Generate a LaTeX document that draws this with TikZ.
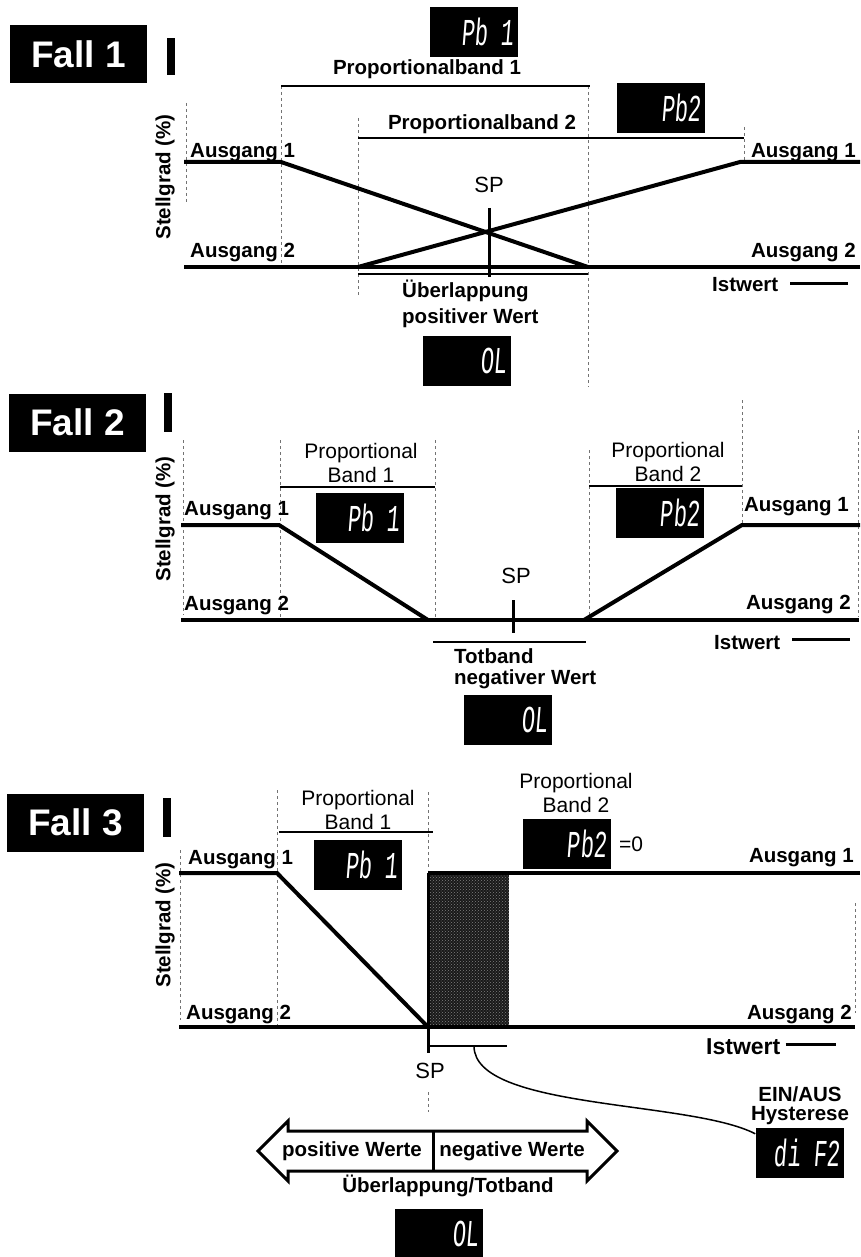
\documentclass[tikz,border=0pt]{standalone}
\usepackage{fontspec}
\setmainfont{Liberation Sans}
\newfontfamily\segfont{Liberation Mono}[FakeStretch=0.58,FakeSlant=0.08]
\usetikzlibrary{calc,patterns}
\tikzset{
  kurve/.style={line width=4pt},
  guide/.style={black!55, line width=0.6pt, dash pattern=on 3pt off 3pt},
  bandline/.style={line width=1.2pt},
  lbl/.style={inner sep=0pt, font=\bfseries\fontsize{20.5}{#1}\selectfont},
  lbl/.default=21,
  txt/.style={inner sep=0pt, align=center, font=\fontsize{21}{24}\selectfont},
  sptxt/.style={inner sep=0pt, font=\fontsize{22}{22}\selectfont},
  display/.style={fill=black, text=white, inner xsep=4pt, inner ysep=0pt, text width=80pt,
    minimum height=50pt, align=right, font=\segfont\fontsize{38}{38}\selectfont},
  fallbox/.style={fill=black, text=white, inner sep=0pt, minimum width=137pt, minimum height=58pt,
    font=\bfseries\fontsize{37}{37}\selectfont},
}
\begin{document}
\begin{tikzpicture}[x=1pt, y=-1pt]
  \useasboundingbox (0,0) rectangle (860,1257);
  % dashed guide lines of all three cases
  \foreach \x/\ya/\yb in {186/103/203, 281/86/267, 358/118/295, 588/86/387, 744/127/162,
      183/440/615, 280/440/620, 435/440/620, 589/450/620, 742/400/525, 858/430/617,
      180/850/1020, 277/790/1027, 428/792/870, 428/1092/1112, 855/903/1013}{
    \draw[guide] (\x,\ya) -- (\x,\yb);
  }
  % small bars right of the case labels
  \foreach \x/\ya/\yb in {167/38/75, 164/393/432, 163/798/837}{
    \fill (\x,\ya) rectangle ({\x+8},\yb);
  }

  % ---------- Fall 1: overlap ----------
  \node[fallbox] (fall1) at (78.5,54) {Fall 1};
  \node[lbl, rotate=90] (stell1) at (165,177) {Stellgrad (\%)};
  \draw[kurve] (184,162) -- (281,162) -- (588,267);
  \draw[kurve] (184,267) -- (860,267);
  \draw[kurve] (358,267) -- (740,162) -- (860,162);
  \draw[line width=2.5pt] (281,86) -- (590,86);
  \draw[line width=2.5pt] (358,138) -- (744,138);
  \draw[line width=2pt] (358,274) -- (588,274);
  \draw[line width=3pt] (489.5,208) -- (489.5,277);
  \node[lbl, anchor=base west] (a1l1) at (190,158) {Ausgang 1};
  \node[lbl, anchor=base west] (a2l1) at (190,258) {Ausgang 2};
  \node[lbl, anchor=base east] (a1r1) at (856,158) {Ausgang 1};
  \node[lbl, anchor=base east] (a2r1) at (856,258) {Ausgang 2};
  \node[lbl, anchor=base] (pbt1) at (427,75) {Proportionalband 1};
  \node[lbl, anchor=base] (pbt2) at (482,130) {Proportionalband 2};
  \node[display] (pb1a) at (474,32) {Pb 1};
  \node[display] (pb2a) at (661,108) {Pb2};
  \node[sptxt, anchor=base] (sp1) at (489,193) {SP};
  \node[lbl=26, align=left, anchor=north west] (olt1) at (402,280) {Überlappung\\positiver Wert};
  \node[display] (ol1) at (467,360.5) {OL};
  \node[lbl, anchor=west] (ist1) at (712,285) {Istwert};
  \draw[line width=3pt] ($(ist1.east)+(12,-2)$) -- ++(58,0);

  % ---------- Fall 2: dead band ----------
  \node[fallbox] (fall2) at (77.5,422.5) {Fall 2};
  \node[lbl, rotate=90] (stell2) at (165,519) {Stellgrad (\%)};
  \draw[kurve] (181,525) -- (279,525) -- (428,620);
  \draw[kurve] (181,620) -- (859,620);
  \draw[kurve] (584,620) -- (742,525) -- (860,525);
  \draw[bandline] (280,487) -- (435,487);
  \draw[bandline] (589,486) -- (742,486);
  \draw[line width=2pt] (433,642) -- (586,642);
  \draw[line width=3pt] (513,600) -- (513,633);
  \node[lbl, anchor=base west] (a1l2) at (184,515) {Ausgang 1};
  \node[lbl, anchor=base west] (a2l2) at (184,610) {Ausgang 2};
  \node[lbl, anchor=base east] (a1r2) at (849,511) {Ausgang 1};
  \node[lbl, anchor=base east] (a2r2) at (851,609) {Ausgang 2};
  \node[txt, anchor=south] (pbt3) at (361,483) {Proportional\\Band 1};
  \node[txt, anchor=south] (pbt4) at (668,482) {Proportional\\Band 2};
  \node[display] (pb1b) at (360,518) {Pb 1};
  \node[display] (pb2b) at (659.5,513) {Pb2};
  \node[sptxt, anchor=base] (sp2) at (516,583) {SP};
  \node[lbl, align=left, anchor=north west] (tbt) at (454,648) {Totband\\negativer Wert};
  \node[display] (ol2) at (507.5,720) {OL};
  \node[lbl, anchor=west] (ist2) at (714,643) {Istwert};
  \draw[line width=3pt] ($(ist2.east)+(12,-4)$) -- ++(58,0);

  % ---------- Fall 3: Pb2 = 0, on/off ----------
  \node[fallbox] (fall3) at (75.5,822.5) {Fall 3};
  \node[lbl, rotate=90] (stell3) at (165,925) {Stellgrad (\%)};
  \fill[black!90] (428,873) rectangle (509,1027);
  \fill[pattern=crosshatch dots, pattern color=black!50] (428,873) rectangle (509,1027);
  \draw[kurve] (179,873) -- (277,873) -- (428,1027);
  \draw[kurve] (179,1027) -- (855,1027);
  \draw[kurve] (428,873) -- (860,873);
  \draw[line width=3pt] (428,873) -- (428,1053);
  \draw[line width=1.5pt] (430,1046) -- (507,1046);
  \draw[bandline] (279,832) -- (433,832);
  \node[lbl, anchor=base west] (a1l3) at (188,864) {Ausgang 1};
  \node[lbl, anchor=base west] (a2l3) at (186,1019) {Ausgang 2};
  \node[lbl, anchor=base east] (a1r3) at (854,862) {Ausgang 1};
  \node[lbl, anchor=base east] (a2r3) at (852,1019) {Ausgang 2};
  \node[txt, anchor=south] (pbt5) at (358,830) {Proportional\\Band 1};
  \node[txt, anchor=south] (pbt6) at (576,813) {Proportional\\Band 2};
  \node[display] (pb1c) at (357.5,865) {Pb 1};
  \node[display] (pb2c) at (566.5,844) {Pb2};
  \node[inner sep=0pt, anchor=base west, font=\fontsize{21}{21}\selectfont] (null) at (619,851) {=0};
  \node[sptxt, anchor=base] (sp3) at (430,1078) {SP};
  \node[inner sep=0pt, anchor=west, font=\bfseries\fontsize{23}{23}\selectfont] (ist3) at (706,1047) {Istwert};
  \draw[line width=3pt] ($(ist3.east)+(5,-3)$) -- ++(50,0);
  \node[lbl=19, align=center, anchor=north] (hyt) at (800,1086) {EIN/AUS\\Hysterese};
  \node[display] (dif) at (799.5,1153) {di F2};
  \coordinate (hyst) at (474,1046);
  \draw[line width=1.5pt] (hyst) .. controls (474,1110) and (690,1100) .. ($(dif.north west)+(0,6)$);
  % overlap / dead band arrow
  \coordinate (tipL) at (258,1151);
  \coordinate (tipR) at (617,1151);
  \draw[line width=3pt, line join=miter] (tipL) -- (288,1121) -- (288,1131) -- (587,1131) -- (587,1121)
    -- (tipR) -- (587,1181) -- (587,1171) -- (288,1171) -- (288,1181) -- cycle;
  \draw[line width=3pt] (433,1131) -- (433,1171);
  \node[lbl] (posw) at (352,1151) {positive Werte};
  \node[lbl] (negw) at (512,1151) {negative Werte};
  \node[lbl, anchor=base] (olt3) at (448,1192) {Überlappung/Totband};
  \node[display] (ol3) at (438.5,1233.5) {OL};
\end{tikzpicture}
\end{document}
